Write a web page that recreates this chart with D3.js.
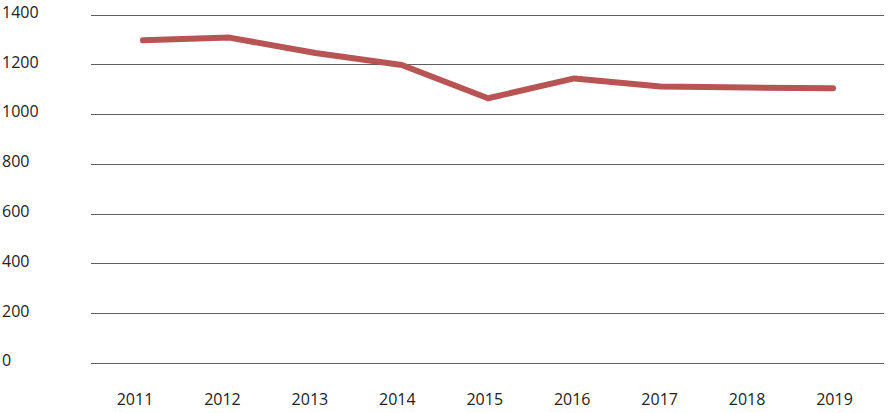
<!DOCTYPE html>
<html><head><meta charset="utf-8">
<script src="https://cdn.jsdelivr.net/npm/d3@7"></script>
<style>body{margin:0;background:#fff}svg{display:block}</style>
</head><body><svg id="c" width="895" height="413"></svg>
<script>
const years = ["2011","2012","2013","2014","2015","2016","2017","2018","2019"];
const values = [1297, 1308, 1246, 1198, 1064, 1144, 1111, 1107, 1104];
const yTicks = [0, 200, 400, 600, 800, 1000, 1200, 1400];

const svg = d3.select("#c");
const gridLeft = 91, gridRight = 884;
const y = d3.scaleLinear().domain([0, 1400]).range([363, 14.7]);
const xLabel = d3.scalePoint().domain(years).range([135, 834.5]);
const xLine = d3.scalePoint().domain(years).range([143, 833]);

svg.append("g").selectAll("line").data(yTicks).join("line")
  .attr("x1", gridLeft).attr("x2", gridRight)
  .attr("y1", d => Math.round(y(d)) + 0.5).attr("y2", d => Math.round(y(d)) + 0.5)
  .attr("stroke", "#5e5e5e").attr("stroke-width", 1);

svg.append("g").selectAll("text").data(yTicks).join("text")
  .attr("x", 2).attr("y", d => y(d) - 1)
  .attr("dominant-baseline", "middle")
  .attr("font-family", "Open Sans, sans-serif").attr("font-size", 16)
  .attr("fill", "#222").text(d => d);

svg.append("g").selectAll("text").data(years).join("text")
  .attr("x", d => xLabel(d)).attr("y", 401)
  .attr("text-anchor", "middle").attr("dominant-baseline", "middle")
  .attr("font-family", "Open Sans, sans-serif").attr("font-size", 16)
  .attr("fill", "#222").text(d => d);

const line = d3.line().x((d, i) => xLine(years[i])).y(d => y(d));
svg.append("path").datum(values).attr("d", line)
  .attr("fill", "none").attr("stroke", "#b85454").attr("stroke-width", 6)
  .attr("stroke-linecap", "round").attr("stroke-linejoin", "round");
</script></body></html>
